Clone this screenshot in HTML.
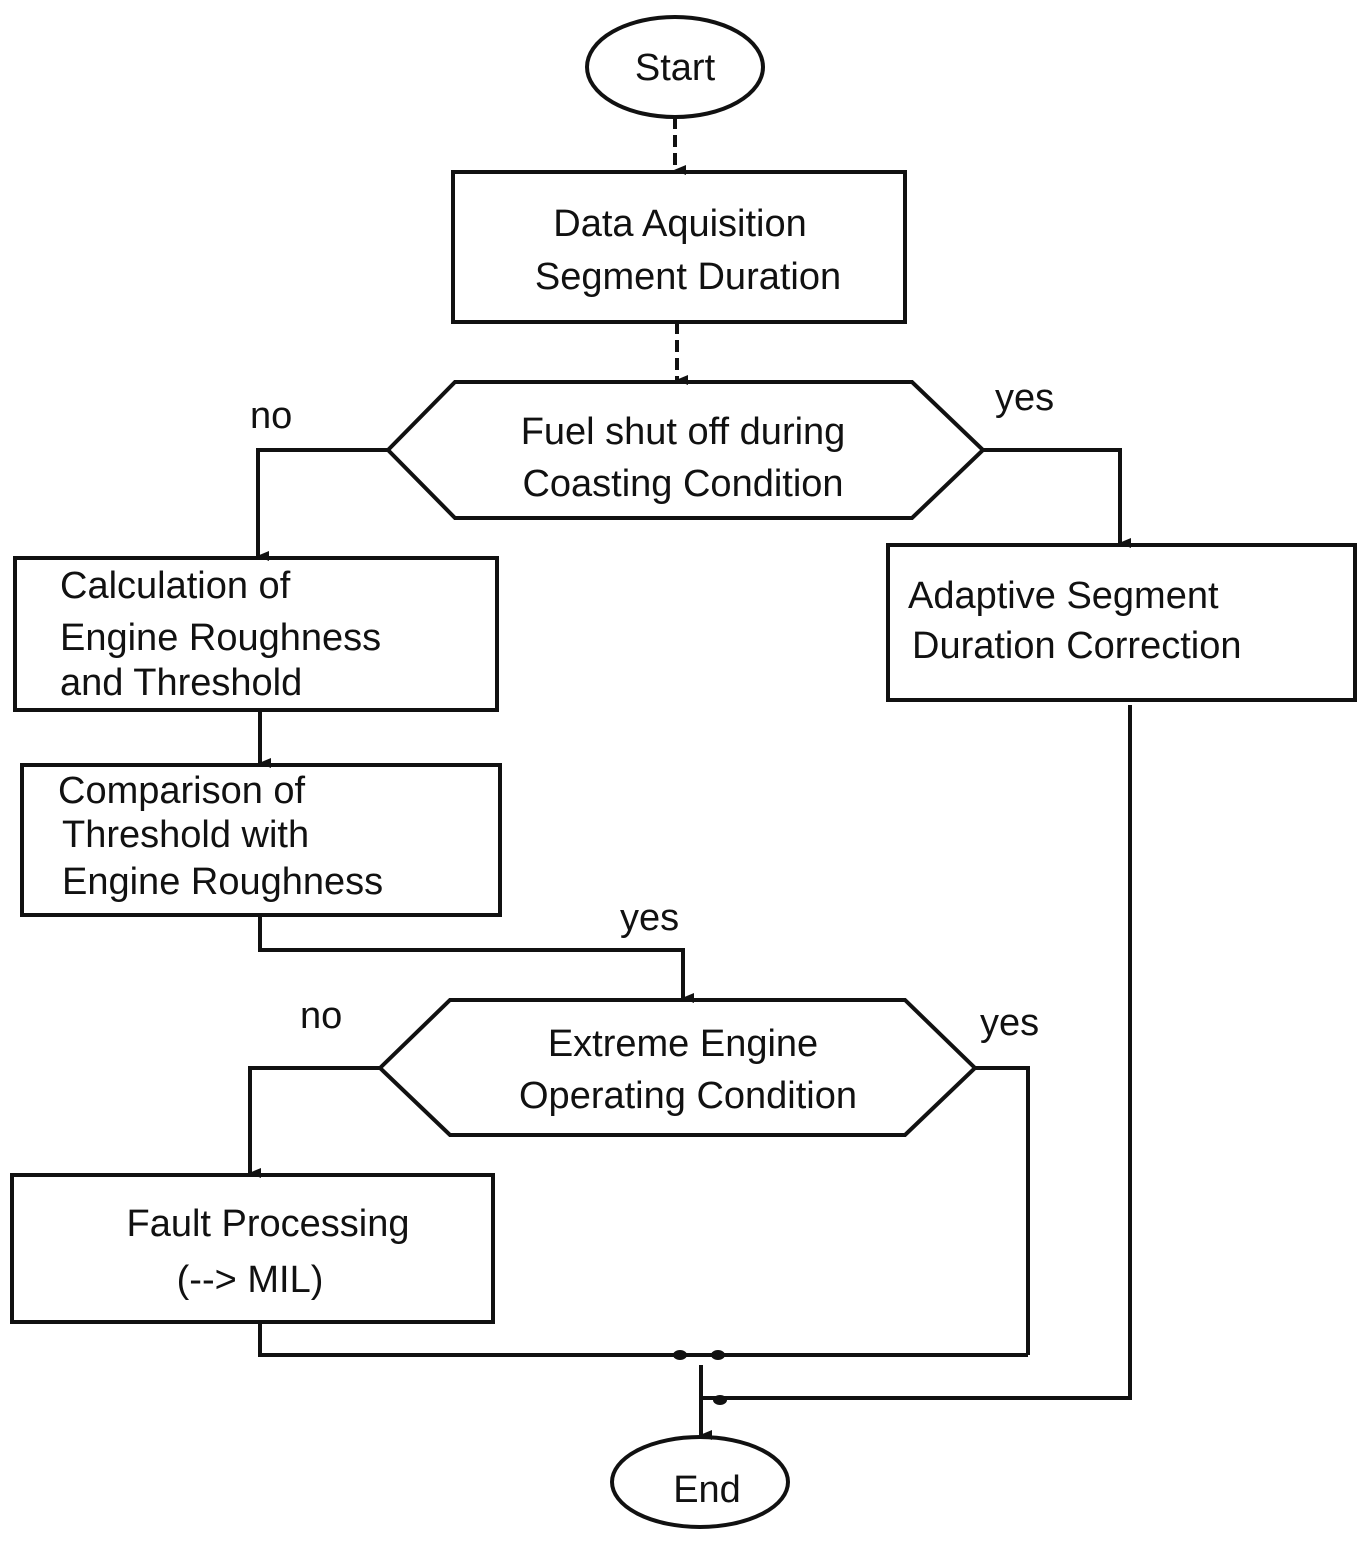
<!DOCTYPE html>
<html><head><meta charset="utf-8"><style>
html,body{margin:0;padding:0;background:#fff;}
svg{display:block;}
text{font-family:"Liberation Sans",sans-serif;font-size:38px;fill:#111;}
</style></head><body>
<svg width="1365" height="1545" viewBox="0 0 1365 1545" xmlns="http://www.w3.org/2000/svg">
<defs><marker id="a" markerWidth="10" markerHeight="12" refX="5" refY="11" orient="auto" markerUnits="userSpaceOnUse">
<path d="M0,0 L10,0 L5,12 Z" fill="#111"/></marker></defs>
<g stroke="#111" stroke-width="4" fill="none">
<ellipse cx="675" cy="67" rx="88" ry="50"/>
<line x1="675" y1="117" x2="675" y2="170" stroke-dasharray="12,6" marker-end="url(#a)"/>
<rect x="453" y="172" width="452" height="150"/>
<line x1="677" y1="322" x2="677" y2="380" stroke-dasharray="12,6" marker-end="url(#a)"/>
<polygon points="388,450 455,382 912,382 983,450 912,518 455,518"/>
<polyline points="388,450 258,450 258,556" marker-end="url(#a)"/>
<polyline points="983,450 1120,450 1120,543" marker-end="url(#a)"/>
<rect x="15" y="558" width="482" height="152"/>
<rect x="888" y="545" width="467" height="155"/>
<line x1="260" y1="710" x2="260" y2="763" marker-end="url(#a)"/>
<rect x="22" y="765" width="478" height="150"/>
<polyline points="260,915 260,950 683,950 683,998" marker-end="url(#a)"/>
<polygon points="380,1068 450,1000 905,1000 975,1068 905,1135 450,1135"/>
<polyline points="380,1068 250,1068 250,1173" marker-end="url(#a)"/>
<polyline points="975,1068 1028,1068 1028,1355"/>
<rect x="12" y="1175" width="481" height="147"/>
<polyline points="260,1322 260,1355 1028,1355"/>
<polyline points="1130,705 1130,1398 702,1398"/>
<line x1="701" y1="1365" x2="701" y2="1435" marker-end="url(#a)"/>
<ellipse cx="700" cy="1482" rx="88" ry="45"/>
</g>
<g fill="#111">
<ellipse cx="680" cy="1355" rx="7" ry="5"/><ellipse cx="718" cy="1355" rx="7" ry="5"/>
<ellipse cx="720" cy="1400" rx="7" ry="5"/>
</g>
<text x="675" y="80" text-anchor="middle">Start</text>
<text x="680" y="236" text-anchor="middle">Data Aquisition</text>
<text x="688" y="289" text-anchor="middle">Segment Duration</text>
<text x="683" y="444" text-anchor="middle">Fuel shut off during</text>
<text x="683" y="496" text-anchor="middle">Coasting Condition</text>
<text x="250" y="428">no</text>
<text x="995" y="410">yes</text>
<text x="60" y="598">Calculation of</text>
<text x="60" y="650">Engine Roughness</text>
<text x="60" y="695">and Threshold</text>
<text x="908" y="608">Adaptive Segment</text>
<text x="912" y="658">Duration Correction</text>
<text x="58" y="803">Comparison of</text>
<text x="62" y="847">Threshold with</text>
<text x="62" y="894">Engine Roughness</text>
<text x="620" y="930">yes</text>
<text x="300" y="1028">no</text>
<text x="980" y="1035">yes</text>
<text x="683" y="1056" text-anchor="middle">Extreme Engine</text>
<text x="688" y="1108" text-anchor="middle">Operating Condition</text>
<text x="268" y="1236" text-anchor="middle">Fault Processing</text>
<text x="250" y="1292" text-anchor="middle">(--&gt; MIL)</text>
<text x="707" y="1502" text-anchor="middle">End</text>
</svg>
</body></html>
